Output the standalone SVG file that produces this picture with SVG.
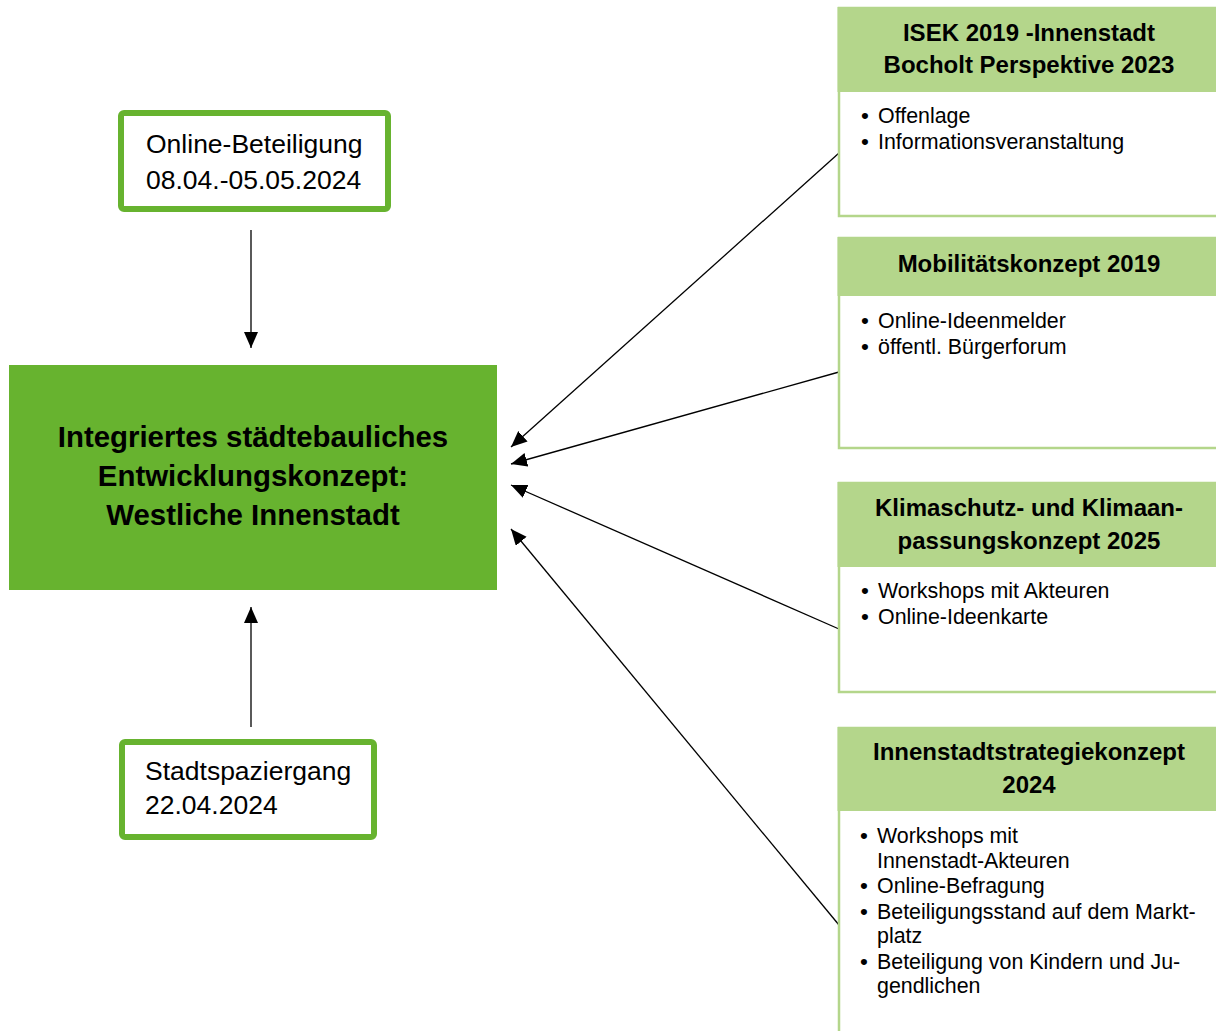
<svg xmlns="http://www.w3.org/2000/svg" width="1216" height="1031" viewBox="0 0 1216 1031">
<style>
text{font-family:"Liberation Sans",Arial,sans-serif;fill:#000}
.hd{font-weight:bold;font-size:24px;text-anchor:middle}
.bl{font-size:21.4px}
.bu{font-size:22.5px}
.sm{font-size:26.5px}
.ct{font-weight:bold;font-size:29.4px;text-anchor:middle}
.hdr{fill:#b4d68b}
.body{fill:#fff;stroke:#b4d68b;stroke-width:2.5}
.small{fill:#fff;stroke:#67b32f;stroke-width:6}
.con{stroke:#000;stroke-width:1.3;fill:none;marker-end:url(#ah)}
</style>
<defs>
<marker id="ah" markerUnits="userSpaceOnUse" markerWidth="18" markerHeight="16" refX="16" refY="7" orient="auto">
<path d="M0,0 L16,7 L0,14 z" fill="#000"/>
</marker>
</defs>
<rect width="1216" height="1031" fill="#fff"/>
<g id="connectors">
<line class="con" x1="251" y1="230" x2="251" y2="348"/>
<line class="con" x1="251" y1="727" x2="251" y2="607"/>
<line class="con" x1="839" y1="153" x2="511" y2="447"/>
<line class="con" x1="839" y1="372" x2="511" y2="464"/>
<line class="con" x1="839" y1="629" x2="511" y2="485"/>
<line class="con" x1="839" y1="925" x2="511" y2="529"/>
</g>
<g id="central">
<rect x="9" y="365" width="488" height="225" fill="#67b32f"/>
<text class="ct" x="253" y="447">Integriertes städtebauliches</text>
<text class="ct" x="253" y="486">Entwicklungskonzept:</text>
<text class="ct" x="253" y="525">Westliche Innenstadt</text>
</g>
<g id="online">
<rect class="small" x="121" y="113" width="267" height="96" rx="3"/>
<text class="sm" x="146" y="153">Online-Beteiligung</text>
<text class="sm" x="146" y="189">08.04.-05.05.2024</text>
</g>
<g id="stadtspaziergang">
<rect class="small" x="122" y="742" width="252" height="95" rx="3"/>
<text class="sm" x="145" y="780">Stadtspaziergang</text>
<text class="sm" x="145" y="814">22.04.2024</text>
</g>
<g id="isek">
<rect class="body" x="839" y="8" width="390" height="208"/>
<rect class="hdr" x="837.5" y="7" width="380" height="85"/>
<text class="hd" x="1029" y="41">ISEK 2019 -Innenstadt</text>
<text class="hd" x="1029" y="73">Bocholt Perspektive 2023</text>
<text class="bl" x="861" y="123"><tspan class="bu">•</tspan><tspan x="878">Offenlage</tspan></text>
<text class="bl" x="861" y="149"><tspan class="bu">•</tspan><tspan x="878">Informationsveranstaltung</tspan></text>
</g>
<g id="mobilitaet">
<rect class="body" x="839" y="238" width="390" height="210"/>
<rect class="hdr" x="837.5" y="237" width="380" height="59"/>
<text class="hd" x="1029" y="272">Mobilitätskonzept 2019</text>
<text class="bl" x="861" y="328"><tspan class="bu">•</tspan><tspan x="878">Online-Ideenmelder</tspan></text>
<text class="bl" x="861" y="354"><tspan class="bu">•</tspan><tspan x="878">öffentl. Bürgerforum</tspan></text>
</g>
<g id="klima">
<rect class="body" x="839" y="483" width="390" height="209"/>
<rect class="hdr" x="837.5" y="482" width="380" height="85"/>
<text class="hd" x="1029" y="516">Klimaschutz- und Klimaan-</text>
<text class="hd" x="1029" y="549">passungskonzept 2025</text>
<text class="bl" x="861" y="598"><tspan class="bu">•</tspan><tspan x="878">Workshops mit Akteuren</tspan></text>
<text class="bl" x="861" y="624"><tspan class="bu">•</tspan><tspan x="878">Online-Ideenkarte</tspan></text>
</g>
<g id="innenstadt">
<rect class="body" x="839" y="728" width="390" height="320"/>
<rect class="hdr" x="837.5" y="727" width="380" height="84"/>
<text class="hd" x="1029" y="760">Innenstadtstrategiekonzept</text>
<text class="hd" x="1029" y="793">2024</text>
<text class="bl" x="860" y="843"><tspan class="bu">•</tspan><tspan x="877">Workshops mit</tspan></text>
<text class="bl" x="877" y="868">Innenstadt-Akteuren</text>
<text class="bl" x="860" y="893"><tspan class="bu">•</tspan><tspan x="877">Online-Befragung</tspan></text>
<text class="bl" x="860" y="919"><tspan class="bu">•</tspan><tspan x="877">Beteiligungsstand auf dem Markt-</tspan></text>
<text class="bl" x="877" y="943">platz</text>
<text class="bl" x="860" y="969"><tspan class="bu">•</tspan><tspan x="877">Beteiligung von Kindern und Ju-</tspan></text>
<text class="bl" x="877" y="993">gendlichen</text>
</g>
</svg>
